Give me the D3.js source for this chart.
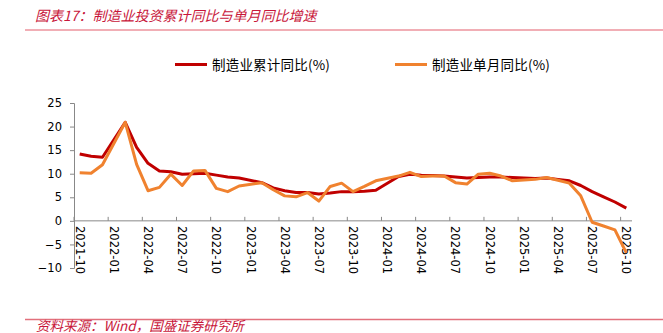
<!DOCTYPE html>
<html><head><meta charset="utf-8">
<script src="https://cdn.jsdelivr.net/npm/d3@7/dist/d3.min.js"></script>
<style>html,body{margin:0;padding:0;background:#fff;}svg{display:block;}</style>
</head><body>
<svg id="c" width="663" height="333"></svg>
<script>
const months = ["2021-10","2021-11","2021-12",
"2022-01","2022-02","2022-03","2022-04","2022-05","2022-06","2022-07","2022-08","2022-09","2022-10","2022-11","2022-12",
"2023-01","2023-02","2023-03","2023-04","2023-05","2023-06","2023-07","2023-08","2023-09","2023-10","2023-11","2023-12",
"2024-01","2024-02","2024-03","2024-04","2024-05","2024-06","2024-07","2024-08","2024-09","2024-10","2024-11","2024-12",
"2025-01","2025-02","2025-03","2025-04","2025-05","2025-06","2025-07","2025-08","2025-09","2025-10"];
const cumulative = [14.2,13.7,13.5,
null,20.9,15.6,12.2,10.6,10.4,9.9,10.0,10.1,9.7,9.3,9.1,
null,8.1,7.0,6.4,6.0,6.0,5.7,5.9,6.2,6.2,6.3,6.5,
null,9.4,9.9,9.7,9.6,9.5,9.3,9.1,9.2,9.3,9.3,9.2,
null,9.0,9.1,8.8,8.5,7.5,6.2,5.1,4.0,2.7];
const monthly = [10.2,10.1,11.9,
null,20.9,12.0,6.4,7.1,9.9,7.5,10.6,10.7,6.9,6.2,7.4,
null,8.1,6.6,5.3,5.1,6.0,4.2,7.3,8.0,6.2,7.3,8.5,
null,9.5,10.3,9.4,9.5,9.5,8.1,7.8,9.9,10.1,9.5,8.5,
null,8.8,9.2,8.6,8.0,5.3,-0.3,-1.1,-1.9,-6.8];
const xTickLabels = ["2021-10","2022-01","2022-04","2022-07","2022-10","2023-01","2023-04","2023-07","2023-10","2024-01","2024-04","2024-07","2024-10","2025-01","2025-04","2025-07","2025-10"];
const yTicks = [-10,-5,0,5,10,15,20,25];
const seriesNames = ["制造业累计同比(%)","制造业单月同比(%)"];
const colors = ["#C00000","#F0822F"];
const titleText = "图表17：制造业投资累计同比与单月同比增速";
const sourceText = "资料来源：Wind，国盛证券研究所";

const svg = d3.select("#c");
const red = "#C8163A";

// title + rules
svg.append("text").attr("x",35).attr("y",21).attr("fill",red)
  .attr("font-family","'Noto Sans CJK SC','DejaVu Sans',sans-serif").attr("font-size",14)
  .attr("font-style","italic").text(titleText);
svg.append("line").attr("x1",25).attr("x2",663).attr("y1",30).attr("y2",30)
  .attr("stroke","#EC939C").attr("stroke-width",1.5);
svg.append("line").attr("x1",25).attr("x2",663).attr("y1",319.5).attr("y2",319.5)
  .attr("stroke","#E2707C").attr("stroke-width",1.5);
svg.append("text").attr("x",36).attr("y",330.5).attr("fill",red)
  .attr("font-family","'Noto Sans CJK SC','DejaVu Sans',sans-serif").attr("font-size",13.5)
  .attr("font-style","italic").text(sourceText);

// scales
const x = d3.scaleBand().domain(months).range([74,632]).paddingInner(0).paddingOuter(0);
const bw = x.bandwidth();
const y = d3.scaleLinear().domain([-10,25]).range([268,103]);

// y axis
const yAxis = svg.append("g").attr("transform","translate(74,0)")
  .call(d3.axisLeft(y).tickValues(yTicks).tickSize(4).tickPadding(8));
yAxis.select(".domain").attr("stroke","#888");
yAxis.selectAll(".tick line").attr("stroke","#888");
yAxis.selectAll(".tick text").attr("font-family","'DejaVu Sans',sans-serif").attr("font-size",11.5).attr("fill","#000");

// x axis at zero
const xAxis = svg.append("g").attr("transform",`translate(0,${y(0)})`)
  .call(d3.axisTop(x).tickValues(xTickLabels).tickSize(4).tickFormat(""));
xAxis.select(".domain").attr("stroke","#888").attr("d",`M74,0H632`);
xAxis.selectAll(".tick").attr("transform",d=>`translate(${x(d)},0)`);
xAxis.selectAll(".tick line").attr("stroke","#888");

// rotated x labels
svg.append("g").selectAll("text").data(xTickLabels).join("text")
  .attr("transform",d=>`translate(${x(d)+bw/2},226) rotate(90)`)
  .attr("dominant-baseline","central").attr("text-anchor","start")
  .attr("font-family","'DejaVu Sans',sans-serif").attr("font-size",11.5).attr("fill","#000")
  .text(d=>d);

// lines
const line = d3.line().x(d=>x(d.m)+bw/2).y(d=>y(d.v));
[cumulative, monthly].forEach((vals,i)=>{
  const pts = months.map((m,j)=>({m, v: vals[j]})).filter(d=>d.v!==null);
  svg.append("path").datum(pts).attr("d",line).attr("fill","none")
    .attr("stroke",colors[i]).attr("stroke-width",3).attr("stroke-linejoin","round");
});

// legend
const legX = [175,395];
seriesNames.forEach((n,i)=>{
  svg.append("line").attr("x1",legX[i]).attr("x2",legX[i]+32).attr("y1",64.5).attr("y2",64.5)
    .attr("stroke",colors[i]).attr("stroke-width",3);
  svg.append("text").attr("x",legX[i]+37).attr("y",69.5)
    .attr("font-family","'Noto Sans CJK SC',sans-serif").attr("font-size",13.5)
    .attr("letter-spacing",0.2).attr("fill","#000").text(n);
});
</script>
</body></html>
